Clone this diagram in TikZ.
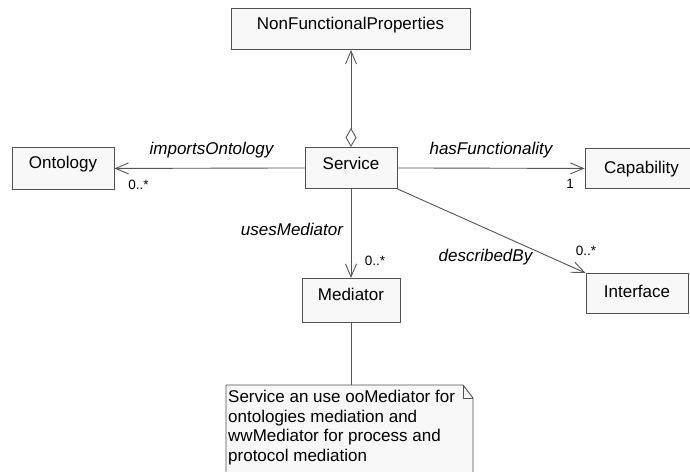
\documentclass[tikz,border=0pt]{standalone}
\usepackage{fontspec}
\setmainfont{Liberation Sans}
\usetikzlibrary{arrows.meta}
\definecolor{boxline}{HTML}{505050}
\definecolor{boxfill}{HTML}{F8F8F8}
\definecolor{wire}{HTML}{555555}
\begin{document}
\begin{tikzpicture}[x=1pt,y=-1pt,
  box/.style={draw=boxline, fill=boxfill, line width=0.9pt, inner xsep=0pt, inner ysep=0pt,
              font=\fontsize{17}{20}\selectfont, anchor=north},
  role/.style={font=\fontsize{17}{20}\selectfont\itshape, anchor=base, inner sep=0pt},
  mult/.style={font=\fontsize{13.5}{15}\selectfont, anchor=base, inner sep=0pt},
  wireline/.style={draw=wire, line width=0.9pt},
  assoc/.style={wireline, -{Straight Barb[length=13pt,width=11pt]}},
  aggr/.style={wireline, {Diamond[open,length=19pt,width=11pt]}-{Straight Barb[length=13pt,width=11pt]}},
  notetext/.style={font=\fontsize{17}{19.5}\selectfont, align=left, inner sep=0pt, anchor=north west},
]
\useasboundingbox (0,0) rectangle (690,471);
\clip (0,0) rectangle (690,471);
\fill[white] (0,0) rectangle (690,471);

% classes
\node[box, minimum width=239pt, text height=21pt, text depth=20pt] (nfp) at (350.5,8) {NonFunctionalProperties};
\node[box, minimum width=92pt, text height=22pt, text depth=19pt] (service) at (351,147) {Service};
\node[box, minimum width=102pt, text height=21pt, text depth=21pt] (ontology) at (63,147) {Ontology};
\node[box, minimum width=113pt, text height=25pt, text depth=15pt] (capability) at (641.5,148) {Capability};
\node[box, minimum width=102pt, text height=24pt, text depth=16pt] (interface) at (637,273) {Interface};
\node[box, minimum width=98pt, text height=22pt, text depth=22pt] (mediator) at (351,278) {Mediator};

% associations
\draw[aggr] (service.north) -- (service.north |- nfp.south);
\draw[assoc] (service.west) -- (ontology.east);
\draw[assoc] (service.east) -- (capability.west);
\draw[assoc] (service.south) -- (mediator.north);
\draw[assoc] (service.south east) -- (interface.north west);

% role names and multiplicities
\node[role] (lblimp) at (211.5,154) {importsOntology};
\node[mult] (mimp) at (138.5,189) {0..*};
\node[role] (lblfun) at (491,154) {hasFunctionality};
\node[mult] (mfun) at (570,188) {1};
\node[role] (lblmed) at (292,235) {usesMediator};
\node[mult] (mmed) at (375,265) {0..*};
\node[role] (lbldesc) at (485.5,261) {describedBy};
\node[mult] (mdesc) at (586,255) {0..*};

% comment note with folded corner
\coordinate (notetop) at (351,385);
\draw[boxline, fill=boxfill, line width=0.9pt] (226,385) -- (463,385) -- (473,398) -- (473,480) -- (226,480) -- cycle;
\draw[boxline, line width=0.9pt] (463,385) -- (463,398) -- (473,398);
\node[notetext] (note) at (228,390) {Service an use ooMediator for\\ontologies mediation and\\wwMediator for process and\\protocol mediation};
\draw[wireline] (mediator.south) -- (notetop);
\end{tikzpicture}
\end{document}
